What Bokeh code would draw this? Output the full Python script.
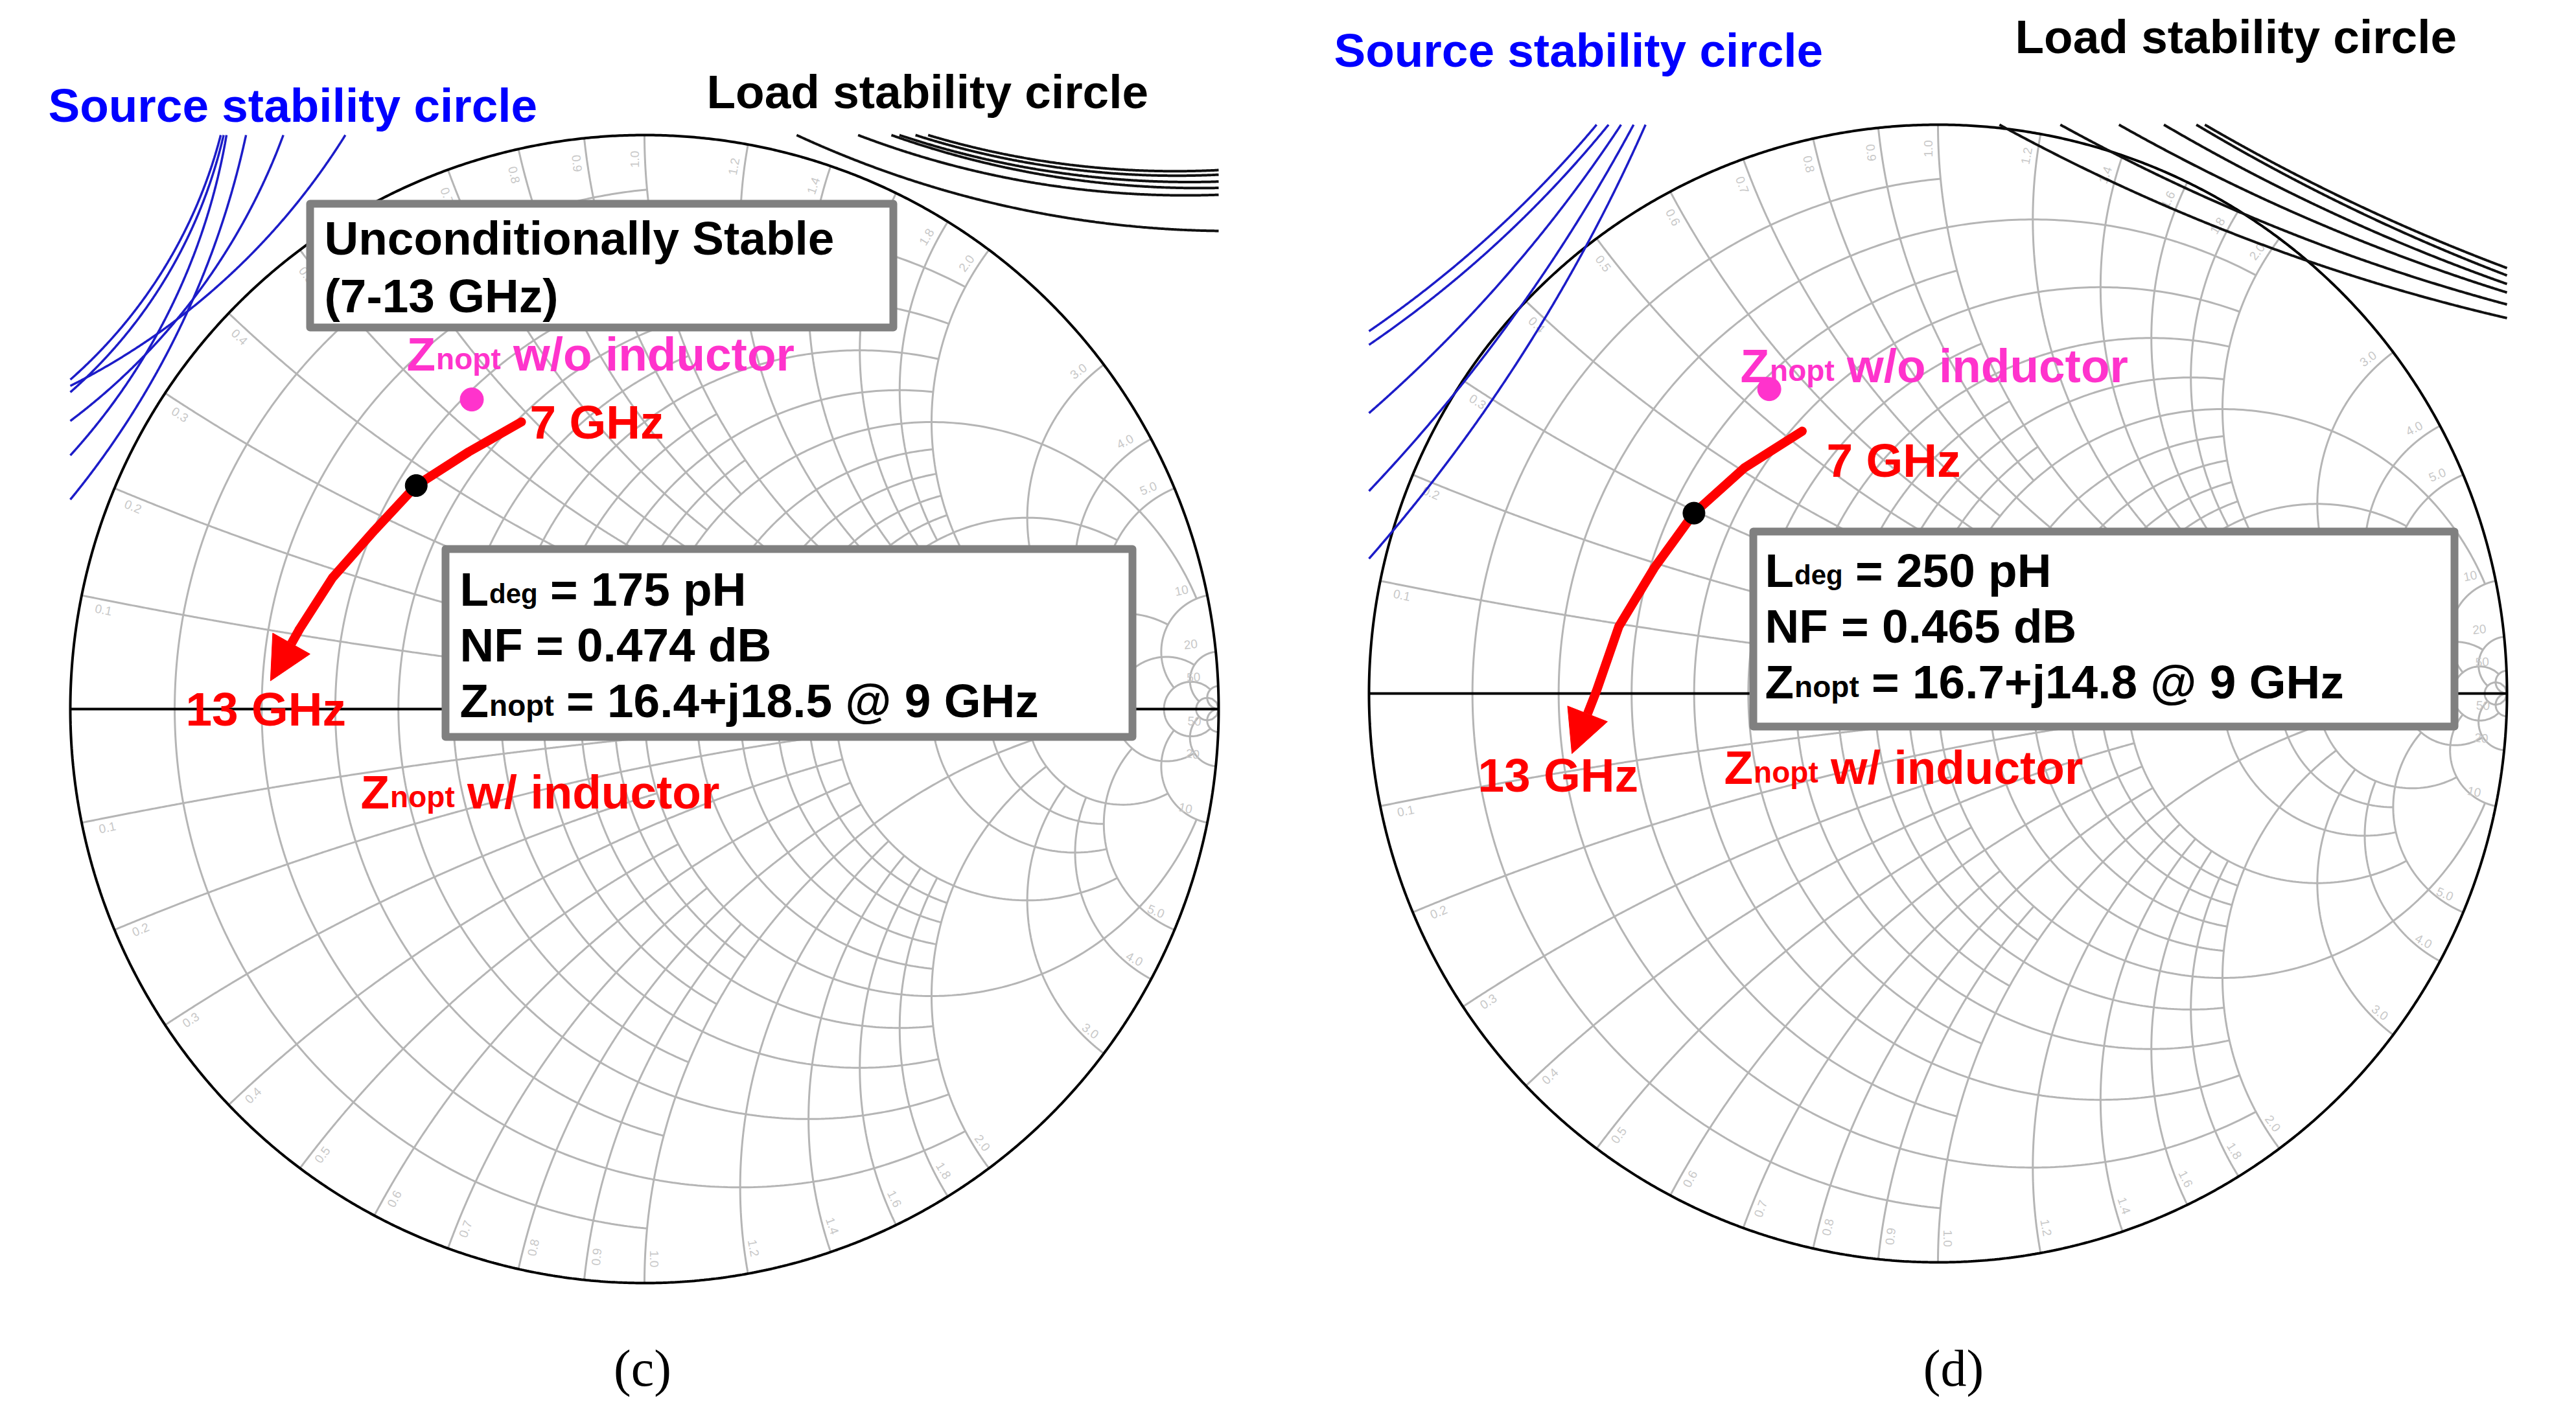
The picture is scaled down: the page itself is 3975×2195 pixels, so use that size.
import numpy as np
from bokeh.plotting import figure
from bokeh.models import Range1d, Arrow, NormalHead
from bokeh.layouts import row
from bokeh.embed import file_html
from bokeh.resources import INLINE
from bokeh.core.properties import value

# ---------------------------------------------------------------- data
Z0 = 50.0
freq_ghz = [7, 8, 9, 10, 11, 12, 13]

# (c) Ldeg = 175 pH : Znopt with inductor, 7..13 GHz (ohm)
zopt_c_re = [20.4, 18.5, 16.4, 15.1, 13.4, 12.0, 10.5]
zopt_c_im = [29.0, 23.5, 18.5, 13.8, 9.4, 5.4, 1.8]
zopt_c_noind_re = [15.6]
zopt_c_noind_im = [27.2]

# (d) Ldeg = 250 pH
zopt_d_re = [20.9, 18.6, 16.7, 15.3, 13.7, 12.5, 10.6]
zopt_d_im = [26.4, 20.3, 14.8, 9.6, 4.8, 0.2, -3.9]
zopt_d_noind_re = [15.9]
zopt_d_noind_im = [27.2]

box_c_lines = ["175 pH", "0.474 dB", "16.4+j18.5 @ 9 GHz"]
box_d_lines = ["250 pH", "0.465 dB", "16.7+j14.8 @ 9 GHz"]

# stability circles: where each arc crosses the [-1,1] reflection-plane frame, and its radius
src_c_top = [-0.738, -0.733, -0.728, -0.694, -0.629, -0.521]   # Gamma_x at Gamma_y = +1
src_c_side = [0.574, 0.552, 0.442, 0.365, 0.502, 0.563]       # Gamma_y at Gamma_x = -1
src_c_rad = [0.85, 0.85, 1.1, 1.5, 1.1, 1.2]
load_c_top = [0.265, 0.372, 0.430, 0.444, 0.472, 0.494]       # Gamma_x at Gamma_y = +1
load_c_side = [0.833, 0.896, 0.908, 0.919, 0.931, 0.939]      # Gamma_y at Gamma_x = +1
load_c_rad = [1.8, 1.6, 1.6, 1.6, 1.5, 1.5]

src_d_top = [-0.600, -0.579, -0.557, -0.535, -0.514]
src_d_side = [0.637, 0.613, 0.493, 0.356, 0.237]
src_d_rad = [2.0, 2.0, 2.5, 3.0, 3.0]
load_d_top = [0.108, 0.215, 0.318, 0.397, 0.454, 0.469]
load_d_side = [0.660, 0.684, 0.705, 0.720, 0.735, 0.748]
load_d_rad = [3.5, 3.5, 3.5, 3.5, 3.5, 3.5]

# Smith chart grid (normalised r circles / x arcs and how far each is drawn)
INF = float("inf")
grid_r = [0.1, 0.2, 0.3, 0.4, 0.5, 0.6, 0.7, 0.8, 0.9, 1.0, 1.2, 1.4, 1.6, 1.8,
          2.0, 3.0, 4.0, 5.0, 10.0, 20.0, 50.0]
grid_r_xlim = [1, 2, 1, 2, 1, 2, 1, 2, 1, 10, 2, 2, 2, 2, 5, 5, 5, 10, 20, 50, INF]
grid_x = list(grid_r)
grid_x_rlim = list(grid_r_xlim)
rim_labels = ["0.1", "0.2", "0.3", "0.4", "0.5", "0.6", "0.7", "0.8", "0.9", "1.0",
              "1.2", "1.4", "1.6", "1.8", "2.0", "3.0", "4.0", "5.0", "10", "20", "50"]

# ---------------------------------------------------------------- style
H = 2179
FONT = "Liberation Sans"
SERIF = "Liberation Serif"
GRID = "#b5b5b5"
RED = "#FF0000"
BLUE = "#0000FF"
BLUE_LINE = "#1c1cc8"
MAGENTA = "#FF33CC"
BOXLINE = "#808080"
FS = 73
TDY = -20          # baseline correction for glyph text
CAP_DY = -39

AW = {'Z': 611, 'L': 611, 'n': 611, 'o': 611, 'p': 611, 't': 333, 'd': 611,
      'e': 556, 'g': 611, ' ': 278}


def tw(s, size):
    return sum(AW[c] for c in s) / 1000.0 * size


def gamma_of(zr, zi):
    z = (np.asarray(zr, float) + 1j * np.asarray(zi, float)) / Z0
    return (z - 1) / (z + 1)


def stab_arc(p1, p2, rho):
    p1 = np.array(p1, float)
    p2 = np.array(p2, float)
    m = (p1 + p2) / 2
    d = p2 - p1
    c = np.hypot(d[0], d[1])
    n = np.array([-d[1], d[0]]) / c
    h = np.sqrt(max(rho ** 2 - (c / 2) ** 2, 0.0))
    cands = [m + h * n, m - h * n]
    ctr = max(cands, key=lambda q: np.hypot(q[0], q[1]))
    a1 = np.arctan2(p1[1] - ctr[1], p1[0] - ctr[0])
    a2 = np.arctan2(p2[1] - ctr[1], p2[0] - ctr[0])
    da = (a2 - a1 + np.pi) % (2 * np.pi) - np.pi
    a = a1 + da * np.linspace(0, 1, 300)
    return ctr[0] + rho * np.cos(a), ctr[1] + rho * np.sin(a)


def make_chart(X0, X1, CX, CY, R, zr, zi, nr, ni, s_top, s_side, s_rad,
               l_top, l_side, l_rad, box_lines, lay):
    p = figure(width=X1 - X0, height=H,
               x_range=Range1d((X0 - CX) / R, (X1 - CX) / R),
               y_range=Range1d((CY - (8 + H)) / R, (CY - 8) / R),
               output_backend="svg", toolbar_location=None,
               x_axis_type=None, y_axis_type=None, min_border=0,
               outline_line_color=None, background_fill_color="white",
               border_fill_color="white")

    def cv(X, Y):
        return (X - CX) / R, (CY - Y) / R

    def txt(X, Y, s, size=FS, color="black", font=FONT, style="bold", align="left", dy=TDY):
        gx, gy = cv(X, Y + dy)
        p.text(x=[gx], y=[gy], text=[s], text_font=value(font), text_font_style=style,
               text_font_size=f"{size}px", text_color=color, text_align=align,
               text_baseline="alphabetic")

    def ztxt(X, Y, main, sub, rest, color, sub_size):
        x1 = X + tw(main, FS)
        x2 = x1 + tw(sub, sub_size) + tw(" ", FS)
        txt(X, Y, main, color=color)
        txt(x1 + 1, Y + 7, sub, size=sub_size, color=color)
        txt(x2, Y, rest, color=color)

    # ---- grid
    xs, ys = [], []
    for r, lim in zip(grid_r, grid_r_xlim):
        t = np.linspace(-np.arctan(lim), np.arctan(lim), 500)
        z = r + 1j * np.tan(t)
        g = (z - 1) / (z + 1)
        xs.append(g.real)
        ys.append(g.imag)
    for xv, lim in zip(grid_x, grid_x_rlim):
        t = np.linspace(0, np.arctan(lim), 500)
        for s in (1, -1):
            z = np.tan(t) + 1j * s * xv
            g = (z - 1) / (z + 1)
            xs.append(g.real)
            ys.append(g.imag)
    p.multi_line(xs, ys, line_color=GRID, line_width=3)

    # rim labels
    lx, ly, lt, la = [], [], [], []
    for xv, lab in zip(grid_x, rim_labels):
        for s in (1, -1):
            th = np.angle(gamma_of(0, s * xv * Z0))
            th2 = th + 0.018
            lx.append(0.958 * np.cos(th2))
            ly.append(0.958 * np.sin(th2))
            lt.append(lab)
            la.append(th if np.cos(th) >= 0 else th + np.pi)
    p.text(x=lx, y=ly, text=lt, angle=la, text_font=value(FONT), text_font_size="19px",
           text_color="#c8c8c8", text_align="center", text_baseline="middle")

    # real axis (x = 0) and outer rim (r = 0)
    t = np.linspace(0, np.pi / 2, 400)
    z = np.tan(t) + 0j
    g = (z - 1) / (z + 1)
    p.line(g.real, g.imag, line_color="black", line_width=4)
    t = np.linspace(-np.pi / 2, np.pi / 2, 1500)
    z = 1j * np.tan(t)
    g = (z - 1) / (z + 1)
    p.line(g.real, g.imag, line_color="black", line_width=4)

    # ---- stability circles
    bx, by = [], []
    for a, b, rho in zip(s_top, s_side, s_rad):
        ax_, ay_ = stab_arc((a, 1.0), (-1.0, b), rho)
        bx.append(ax_)
        by.append(ay_)
    p.multi_line(bx, by, line_color=BLUE_LINE, line_width=3.5)
    kx, ky = [], []
    for a, b, rho in zip(l_top, l_side, l_rad):
        ax_, ay_ = stab_arc((a, 1.0), (1.0, b), rho)
        kx.append(ax_)
        ky.append(ay_)
    p.multi_line(kx, ky, line_color="#111111", line_width=4)

    # ---- annotation boxes
    for (L, T, Rr, B) in lay["boxes"]:
        l_, t_ = cv(L, T)
        r_, b_ = cv(Rr, B)
        p.quad(left=[l_], right=[r_], top=[t_], bottom=[b_], fill_color="white",
               line_color=BOXLINE, line_width=12, line_join="round")

    # ---- Znopt trajectory
    g = gamma_of(zr, zi)
    p.line(g.real[:-1], g.imag[:-1], line_color=RED, line_width=14,
           line_cap="round", line_join="round")
    p.add_layout(Arrow(end=NormalHead(size=66, fill_color=RED, line_color=RED, line_width=1),
                       x_start=g.real[-2], y_start=g.imag[-2],
                       x_end=g.real[-1], y_end=g.imag[-1],
                       line_color=RED, line_width=14))
    i9 = freq_ghz.index(9)
    p.scatter([g.real[i9]], [g.imag[i9]], size=34, marker="circle",
              fill_color="black", line_color="black")
    gn = gamma_of(nr, ni)
    p.scatter(gn.real, gn.imag, size=36, marker="circle",
              fill_color=MAGENTA, line_color=MAGENTA)

    # ---- texts
    txt(*lay["src"], "Source stability circle", color=BLUE)
    txt(*lay["load"], "Load stability circle")
    if lay.get("stable"):
        X, Y = lay["stable"]
        txt(X, Y, "Unconditionally Stable")
        txt(X, Y + 89, "(7-13 GHz)")
    X, Y = lay["noind"]
    ztxt(X, Y, "Z", "nopt", "w/o inductor", MAGENTA, 46)
    txt(*lay["f7"], f"{freq_ghz[0]} GHz", color=RED)
    txt(*lay["f13"], f"{freq_ghz[-1]} GHz", color=RED)
    X, Y = lay["boxtext"]
    ztxt(X, Y, "L", "deg", "= " + box_lines[0], "black", 42)
    txt(X, Y + 86, "NF = " + box_lines[1])
    ztxt(X, Y + 172, "Z", "nopt", "= " + box_lines[2], "black", 46)
    X, Y = lay["wind"]
    ztxt(X, Y, "Z", "nopt", "w/ inductor", RED, 46)
    X, Y = lay["cap"]
    txt(X, Y, lay["caption"], size=80, font=SERIF, style="normal", align="center", dy=CAP_DY)
    return p


lay_c = dict(src=(82, 190), load=(1098, 169), stable=(508, 395),
             noind=(635, 574), f7=(825, 679), f13=(294, 1122),
             boxtext=(717, 937), wind=(564, 1250), cap=(999, 2158), caption="(c)",
             boxes=[(486, 322, 1386, 513), (695, 855, 1755, 1145)])
lay_d = dict(src=(2066, 105), load=(3117, 84), stable=None,
             noind=(2693, 592), f7=(2826, 738), f13=(2288, 1224),
             boxtext=(2731, 908), wind=(2668, 1212), cap=(3022, 2158), caption="(d)",
             boxes=[(2713, 828, 3795, 1129)])

p1 = make_chart(8, 1990, 1002, 1102, 886, zopt_c_re, zopt_c_im, zopt_c_noind_re, zopt_c_noind_im,
                src_c_top, src_c_side, src_c_rad, load_c_top, load_c_side, load_c_rad,
                box_c_lines, lay_c)
p2 = make_chart(1990, 3967, 2998, 1078, 878, zopt_d_re, zopt_d_im, zopt_d_noind_re, zopt_d_noind_im,
                src_d_top, src_d_side, src_d_rad, load_d_top, load_d_side, load_d_rad,
                box_d_lines, lay_d)

layout = row(p1, p2)
open("out.html", "w").write(file_html(layout, INLINE))
